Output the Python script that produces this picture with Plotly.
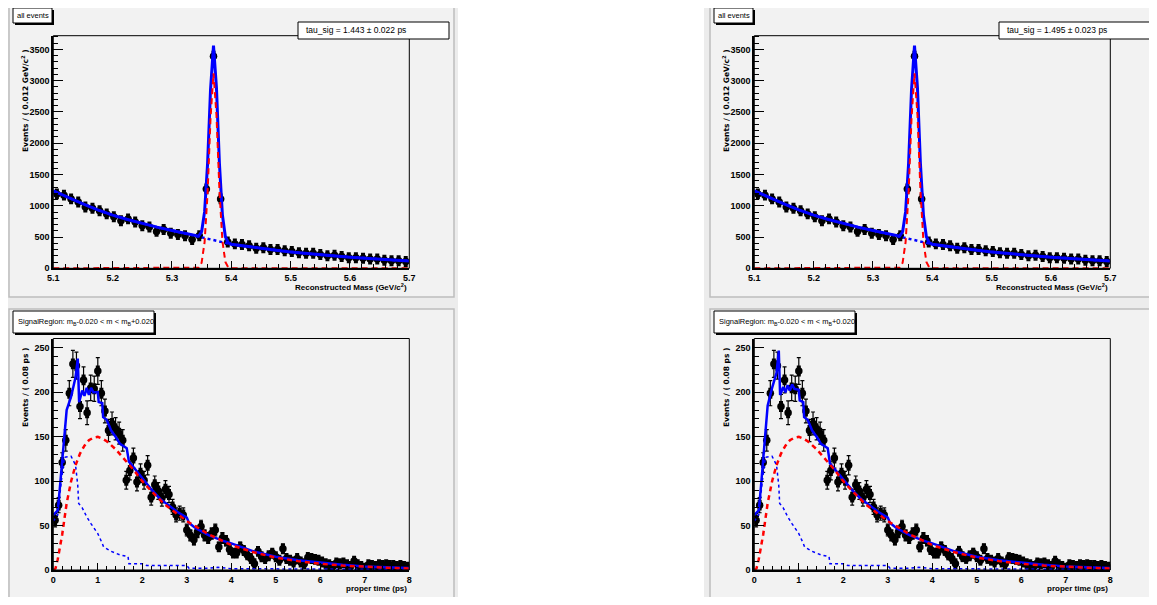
import plotly.graph_objects as go

# page body has an 8px margin: the figure starts at (8, 8) in the window
OFF = 8
W, H = 1157 - 2 * OFF, 605 - 2 * OFF
def fx(p): return (p - OFF) / W
def fy(p): return 1 - (p - OFF) / H

NARROW = "Liberation Sans, Arial, sans-serif"

# ---------------- data: mass fit (top pads) ----------------
mass_bins = [5.106, 5.118, 5.130, 5.142, 5.154, 5.166, 5.178, 5.190, 5.202, 5.214,
             5.226, 5.238, 5.250, 5.262, 5.274, 5.286, 5.298, 5.310, 5.322, 5.334,
             5.346, 5.358, 5.370, 5.382, 5.394, 5.406, 5.418, 5.430, 5.442, 5.454,
             5.466, 5.478, 5.490, 5.502, 5.514, 5.526, 5.538, 5.550, 5.562, 5.574,
             5.586, 5.598, 5.610, 5.622, 5.634, 5.646, 5.658, 5.670, 5.682, 5.694]
mass_counts = [1190, 1170, 1110, 1060, 980, 960, 920, 870, 825, 760,
               790, 740, 680, 660, 590, 620, 560, 540, 520, 460,
               520, 1270, 3390, 1110, 420, 390, 380, 360, 320, 330,
               300, 300, 280, 270, 250, 240, 240, 220, 200, 210,
               190, 170, 170, 160, 150, 150, 130, 120, 120, 110]

mass_curve_x = [5.10, 5.125, 5.15, 5.175, 5.20, 5.225, 5.25, 5.275, 5.30, 5.325,
                5.34, 5.345, 5.35, 5.355, 5.36, 5.365, 5.37, 5.375, 5.38, 5.385,
                5.39, 5.395, 5.40, 5.425, 5.45, 5.475, 5.50, 5.525, 5.55, 5.575,
                5.60, 5.625, 5.65, 5.675, 5.70]
mass_bkg = [1240, 1130, 1030, 935, 850, 780, 715, 658, 605, 550,
            515, 505, 495, 484, 472, 460, 448, 436, 425, 415,
            405, 395, 385, 350, 320, 290, 260, 237, 215, 196,
            178, 160, 145, 130, 117]
mass_sig = [0, 0, 0, 0, 0, 0, 0, 0, 0, 0,
            0, 10, 90, 420, 1200, 2400, 3120, 2450, 1250, 440,
            100, 12, 0, 0, 0, 0, 0, 0, 0, 0,
            0, 0, 0, 0, 0]
mass_total = [1240, 1130, 1030, 935, 850, 780, 715, 658, 605, 550,
              515, 515, 585, 905, 1670, 2860, 3560, 2885, 1675, 855,
              505, 407, 385, 350, 320, 290, 260, 237, 215, 196,
              178, 160, 145, 130, 117]

# ---------------- data: proper time (bottom pads) ----------------
time_bins = [0.04, 0.12, 0.20, 0.28, 0.36, 0.44, 0.52, 0.60, 0.68, 0.76,
             0.84, 0.92, 1.00, 1.08, 1.16, 1.24, 1.32, 1.40, 1.48, 1.56,
             1.64, 1.72, 1.80, 1.88, 1.96, 2.04, 2.12, 2.20, 2.28, 2.36,
             2.44, 2.52, 2.60, 2.68, 2.76, 2.84, 2.92, 3.00, 3.08, 3.16,
             3.24, 3.32, 3.40, 3.48, 3.56, 3.64, 3.72, 3.80, 3.88, 3.96,
             4.04, 4.12, 4.20, 4.28, 4.36, 4.44, 4.52, 4.60, 4.68, 4.76,
             4.84, 4.92, 5.00, 5.08, 5.16, 5.24, 5.32, 5.40, 5.48, 5.56,
             5.64, 5.72, 5.80, 5.88, 5.96, 6.04, 6.12, 6.20, 6.28, 6.36,
             6.44, 6.52, 6.60, 6.68, 6.76, 6.84, 6.92, 7.00, 7.08, 7.16,
             7.24, 7.32, 7.40, 7.48, 7.56, 7.64, 7.72, 7.80, 7.88, 7.96]
time_counts = [56, 73, 121, 146, 199, 232, 230, 184, 214, 177,
               205, 204, 224, 199, 179, 157, 165, 159, 154, 146,
               101, 112, 126, 99, 109, 101, 118, 82, 96, 89,
               81, 91, 85, 71, 62, 64, 62, 45, 39, 34,
               43, 49, 39, 36, 41, 45, 26, 36, 33, 23,
               19, 19, 26, 22, 17, 13, 7, 21, 15, 13,
               16, 19, 15, 11, 24, 13, 11, 9, 13, 9,
               7, 14, 13, 12, 11, 9, 7, 6, 4, 8,
               7, 8, 6, 4, 10, 6, 4, 2, 6, 5,
               4, 6, 5, 6, 5, 5, 4, 5, 4, 3]

time_total_x = [0.0, 0.1, 0.15, 0.2, 0.25, 0.3, 0.4, 0.5, 0.55, 0.58,
                0.65, 0.7, 0.75, 0.8, 0.85, 0.9, 1.0, 1.02, 1.1, 1.12,
                1.2, 1.3, 1.4, 1.5, 1.65, 1.7, 1.8, 2.0, 2.2, 2.4,
                2.6, 2.8, 3.0, 3.05, 3.2, 3.5, 3.8, 4.0, 4.5, 5.0,
                5.5, 6.0, 6.5, 7.0, 7.5, 8.0]
time_total_left = [62, 67, 94, 124, 146, 180, 195, 217, 238, 189,
                   202, 196, 205, 197, 205, 200, 200, 189, 188, 172,
                   169, 157, 150, 142, 137, 122, 116, 103, 91, 80,
                   72, 65, 59, 53, 47, 39, 33, 30, 21, 15,
                   11, 8, 5.8, 4, 3, 2.3]
time_total_right = [62, 67, 94, 124, 150, 185, 205, 222, 247, 197,
                    206, 200, 208, 202, 209, 204, 203, 191, 189, 172,
                    169, 157, 150, 142, 137, 120, 114, 102, 90, 80,
                    72, 65, 59, 53, 47, 39, 33, 30, 21, 15,
                    11, 8, 5.8, 4, 3, 2.3]

time_sig_x = [0.0, 0.05, 0.1, 0.2, 0.3, 0.4, 0.5, 0.6, 0.7, 0.8,
              0.9, 1.0, 1.1, 1.2, 1.4, 1.6, 1.8, 2.0, 2.2, 2.5,
              3.0, 3.5, 4.0, 4.5, 5.0, 5.5, 6.0, 6.5, 7.0, 7.5, 8.0]
time_sig = [0, 2, 12, 40, 75, 100, 118, 131, 140, 146,
            149, 150, 148, 145, 136, 125, 113, 100, 89, 74,
            55, 40, 28, 20, 14, 10, 7, 5, 3.5, 2.5, 1.8]

time_bkg_x = [0.0, 0.1, 0.18, 0.25, 0.4, 0.5, 0.55, 0.57, 0.65, 0.75,
              0.85, 0.9, 1.0, 1.1, 1.13, 1.3, 1.5, 1.68, 1.7, 2.0,
              2.1, 3.0, 3.05, 3.5, 3.7, 4.0, 5.0, 6.0, 7.0, 8.0]
time_bkg = [55, 62, 100, 127, 128, 118, 95, 75, 70, 60,
            52, 48, 41, 30, 26, 21, 17, 15, 7, 7,
            5, 5, 2, 2, 3, 1.5, 1.2, 1, 0.8, 0.6]

tau_labels = ["tau_sig = 1.443 ± 0.022 ps", "tau_sig = 1.495 ± 0.023 ps"]
mass_title = "Reconstructed Mass (GeV/c<sup>2</sup>)"
time_title = "proper time (ps)"
mass_ytitle = "Events / ( 0.012 GeV/c<sup>2</sup> )"
time_ytitle = "Events / ( 0.08 ps )"
region_label = "SignalRegion: m<sub>B</sub>-0.020 &lt; m &lt; m<sub>B</sub>+0.020"

fig = go.Figure()

columns = [0, 701]
shapes = []
annotations = []

def add_data(xa, ya, xs, ys, xerr, capw):
    fig.add_trace(go.Scatter(
        x=xs, y=ys, mode="markers", xaxis=xa, yaxis=ya, showlegend=False,
        marker=dict(symbol="circle", size=7.5, color="black"),
        error_y=dict(type="sqrt", color="black", thickness=1.2, width=capw),
        error_x=dict(type="constant", value=xerr, color="black", thickness=1.2, width=0)))
    fig.add_trace(go.Scatter(
        x=xs, y=ys, mode="markers", xaxis=xa, yaxis=ya, showlegend=False,
        marker=dict(symbol="line-ns", size=7.8, color="black",
                    line=dict(color="black", width=4))))

for ci, dx in enumerate(columns):
    n = ci * 2
    xa_top = "x" if n == 0 else f"x{n+1}"
    ya_top = "y" if n == 0 else f"y{n+1}"
    xa_bot = f"x{n+2}"
    ya_bot = f"y{n+2}"

    # canvas & pads
    shapes.append(dict(type="rect", xref="paper", yref="paper", layer="below",
                       x0=fx(max(3 + dx, OFF)), x1=fx(min(458 + dx, OFF + W)), y0=0, y1=1,
                       fillcolor="#ececec", line=dict(width=0)))
    for (y0p, y1p) in [(3, 297), (309, 598)]:
        shapes.append(dict(type="rect", xref="paper", yref="paper", layer="below",
                           x0=fx(9 + dx), x1=fx(454 + dx), y0=fy(y1p), y1=fy(y0p),
                           fillcolor="#f2f2f2", line=dict(color="#bdbdbd", width=1.5)))

    # top: mass
    add_data(xa_top, ya_top, mass_bins, mass_counts, 0.006, 0)
    fig.add_trace(go.Scatter(x=mass_curve_x, y=mass_total, mode="lines", xaxis=xa_top, yaxis=ya_top,
                             showlegend=False, line=dict(color="#0000ff", width=3)))
    fig.add_trace(go.Scatter(x=mass_curve_x, y=mass_bkg, mode="lines", xaxis=xa_top, yaxis=ya_top,
                             showlegend=False, line=dict(color="#0000ff", width=2.5, dash="dot")))
    fig.add_trace(go.Scatter(x=mass_curve_x, y=mass_sig, mode="lines", xaxis=xa_top, yaxis=ya_top,
                             showlegend=False, line=dict(color="#ff0000", width=2, dash="6px,4px")))

    # bottom: time
    add_data(xa_bot, ya_bot, time_bins, time_counts, 0.04, 2)
    tot = time_total_left if ci == 0 else time_total_right
    fig.add_trace(go.Scatter(x=time_total_x, y=tot, mode="lines", xaxis=xa_bot, yaxis=ya_bot,
                             showlegend=False, line=dict(color="#0000ff", width=2.5)))
    fig.add_trace(go.Scatter(x=time_bkg_x, y=time_bkg, mode="lines", xaxis=xa_bot, yaxis=ya_bot,
                             showlegend=False, line=dict(color="#0000ff", width=1.5, dash="dot")))
    fig.add_trace(go.Scatter(x=time_sig_x, y=time_sig, mode="lines", xaxis=xa_bot, yaxis=ya_bot,
                             showlegend=False, line=dict(color="#ff0000", width=2.5, dash="5px,4px")))

    xl, xr = 53.3 + dx, 409.3 + dx
    common = dict(showgrid=False, zeroline=False, showline=True, linecolor="black", linewidth=2,
                  ticks="inside", tickcolor="black", tickwidth=1, automargin=False,
                  tickfont=dict(family=NARROW, size=9, color="black", weight="bold"))

    fig.layout[("xaxis" if n == 0 else f"xaxis{n+1}")] = dict(
        common, domain=[fx(xl), fx(xr)], anchor=ya_top, range=[5.1, 5.7],
        tickmode="linear", tick0=5.1, dtick=0.1, ticklen=7, tickformat=".1f",
        minor=dict(ticks="inside", dtick=0.02, ticklen=4, tickcolor="black"))
    fig.layout[("yaxis" if n == 0 else f"yaxis{n+1}")] = dict(
        common, domain=[fy(268.3), fy(35.7)], anchor=xa_top, range=[0, 3720],
        tickmode="linear", tick0=0, dtick=500, ticklen=10,
        minor=dict(ticks="inside", dtick=100, ticklen=5, tickcolor="black"))
    fig.layout[f"xaxis{n+2}"] = dict(
        common, domain=[fx(xl), fx(xr)], anchor=ya_bot, range=[0, 8],
        tickmode="linear", tick0=0, dtick=1, ticklen=7,
        minor=dict(ticks="inside", dtick=0.2, ticklen=4, tickcolor="black"))
    fig.layout[f"yaxis{n+2}"] = dict(
        common, domain=[fy(570), fy(338.5)], anchor=xa_bot, range=[0, 260.6],
        tickmode="linear", tick0=0, dtick=50, ticklen=10,
        minor=dict(ticks="inside", dtick=10, ticklen=5, tickcolor="black"))

    # frames
    for (t, b) in [(35.7, 268.3), (338.5, 570)]:
        shapes.append(dict(type="rect", xref="paper", yref="paper", layer="above",
                           x0=fx(xl), x1=fx(xr), y0=fy(b), y1=fy(t),
                           line=dict(color="black", width=1)))

    # boxes
    def box(x0, y0, x1, y1, shadow):
        if shadow:
            shapes.append(dict(type="rect", xref="paper", yref="paper", layer="above",
                               x0=fx(x0 + 2), x1=fx(x1 + 2), y0=fy(y1 + 2), y1=fy(y0 + 2),
                               fillcolor="black", line=dict(width=0)))
        shapes.append(dict(type="rect", xref="paper", yref="paper", layer="above",
                           x0=fx(x0), x1=fx(x1), y0=fy(y1), y1=fy(y0),
                           fillcolor="white", line=dict(color="black", width=1)))

    box(13 + dx, 8, 52 + dx, 23, True)
    annotations.append(dict(x=fx(32.5 + dx), y=fy(15.5), xref="paper", yref="paper", text="all events",
                            showarrow=False, xanchor="center", yanchor="middle",
                            font=dict(family=NARROW, size=7.5, color="black")))
    box(298 + dx, 22, 449 + dx, 39, False)
    annotations.append(dict(x=fx(304 + dx), y=fy(30.5), xref="paper", yref="paper", text=tau_labels[ci],
                            showarrow=False, xanchor="left", yanchor="middle",
                            font=dict(family=NARROW, size=8.5, color="black")))
    box(13 + dx, 311, 154 + dx, 333, True)
    annotations.append(dict(x=fx(16 + dx), y=fy(322), xref="paper", yref="paper", text=region_label,
                            showarrow=False, xanchor="left", yanchor="middle",
                            font=dict(family=NARROW, size=7.5, color="black")))

    # axis titles
    annotations.append(dict(x=fx(xr), y=fy(287), xref="paper", yref="paper", text=mass_title,
                            showarrow=False, xanchor="right", yanchor="middle",
                            font=dict(family=NARROW, size=8, color="black", weight="bold")))
    annotations.append(dict(x=fx(xr), y=fy(588), xref="paper", yref="paper", text=time_title,
                            showarrow=False, xanchor="right", yanchor="middle",
                            font=dict(family=NARROW, size=8, color="black", weight="bold")))
    annotations.append(dict(x=fx(25 + dx), y=fy(101), xref="paper", yref="paper", text=mass_ytitle,
                            showarrow=False, textangle=-90, xanchor="center", yanchor="middle",
                            font=dict(family="DejaVu Sans", size=7.5, color="black", weight="bold")))
    annotations.append(dict(x=fx(25 + dx), y=fy(388), xref="paper", yref="paper", text=time_ytitle,
                            showarrow=False, textangle=-90, xanchor="center", yanchor="middle",
                            font=dict(family="DejaVu Sans", size=7.5, color="black", weight="bold")))

fig.update_layout(width=W, height=H, margin=dict(l=0, r=0, t=0, b=0, pad=0, autoexpand=False),
                  paper_bgcolor="white", plot_bgcolor="rgba(0,0,0,0)",
                  shapes=shapes, annotations=annotations, showlegend=False)

fig.write_html("out.html")
